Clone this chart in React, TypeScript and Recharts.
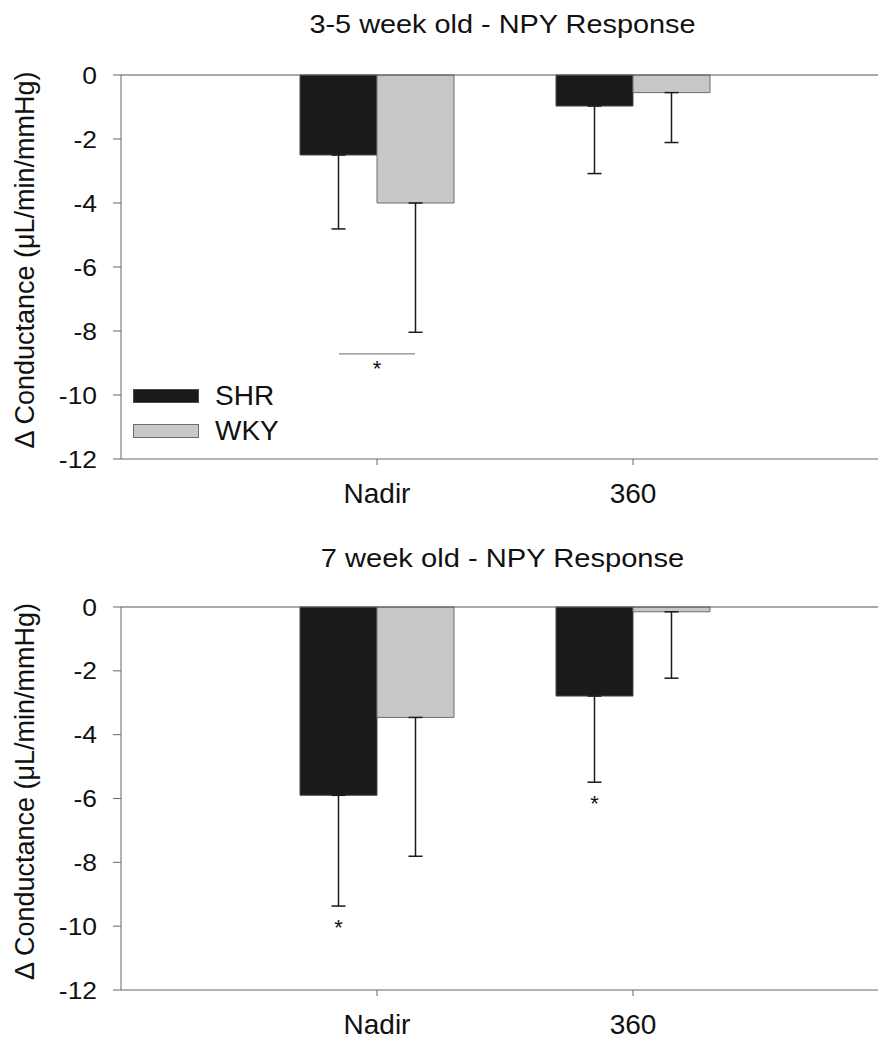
import React from 'react';
import { ComposedChart, Bar, ErrorBar, Scatter, XAxis, YAxis, ReferenceLine, Legend } from 'recharts';

// categorias e eixos
const categories = ['Nadir', '360'];
const yTicks = [0, -2, -4, -6, -8, -10, -12];

// 3-5 week old
const youngShr = [-2.5, -0.97];
const youngShrErr = [2.31, 2.11];
const youngWky = [-4.0, -0.55];
const youngWkyErr = [4.04, 1.56];
const youngSig: (number | null)[] = [-9.06, null];
const youngSigType: (string | null)[] = ['pair', null];

// 7 week old
const oldShr = [-5.9, -2.79];
const oldShrErr = [3.47, 2.7];
const oldWky = [-3.46, -0.15];
const oldWkyErr = [4.35, 2.08];
const oldSig: (number | null)[] = [-9.93, -6.06];
const oldSigType: (string | null)[] = ['shr', 'shr'];

const FONT = '"Liberation Sans", Arial, sans-serif';
const BAR_SIZE = 77;
const AXIS = '#666';

const SERIES = [
  { key: 'shr', name: 'SHR', fill: '#1a1a1a', stroke: '#4a4a4a' },
  { key: 'wky', name: 'WKY', fill: '#c8c8c8', stroke: '#6e6e6e' },
];

const buildRows = (
  shr: number[], shrErr: number[], wky: number[], wkyErr: number[],
  sig: (number | null)[], sigType: (string | null)[]
) =>
  categories.map((name, i) => ({
    name,
    shr: shr[i],
    shrErr: [shrErr[i], 0],
    wky: wky[i],
    wkyErr: [wkyErr[i], 0],
    sig: sig[i],
    sigType: sigType[i],
  }));

const youngRows = buildRows(youngShr, youngShrErr, youngWky, youngWkyErr, youngSig, youngSigType);
const oldRows = buildRows(oldShr, oldShrErr, oldWky, oldWkyErr, oldSig, oldSigType);

// asterisco de significancia
const SigMark = (props: any) => {
  const { cx, cy, payload } = props;
  if (!payload || payload.sig == null || payload.sigType == null) return <g />;
  const sx = payload.sigType === 'shr' ? cx - BAR_SIZE / 2 : cx;
  return (
    <g>
      {payload.sigType === 'pair' && (
        <line x1={cx - 38} x2={cx + 38} y1={cy - 11} y2={cy - 11} stroke="#888" strokeWidth={1.2} />
      )}
      <text x={sx} y={cy + 11} textAnchor="middle" fontSize={22} fontFamily={FONT} fill="#111">*</text>
    </g>
  );
};

const YTick = (props: any) => {
  const { x, y, payload } = props;
  return (
    <text
      transform={`translate(${x},${y}) scale(1.1,1)`}
      textAnchor="end"
      dy="0.355em"
      fontSize={24}
      fontFamily={FONT}
      fill="#111"
    >
      {payload.value}
    </text>
  );
};

const YLabel = (props: any) => {
  const vb = props.viewBox || {};
  const cy = vb.y + vb.height / 2 - 7;
  const x = 34;
  return (
    <text
      x={x}
      y={cy}
      transform={`rotate(-90, ${x}, ${cy})`}
      textAnchor="middle"
      fontSize={27}
      fontFamily={FONT}
      fill="#111"
    >
      Δ Conductance (μL/min/mmHg)
    </text>
  );
};

const LegendBox = () => (
  <div style={{ fontFamily: FONT, fontSize: 28, color: '#111' }}>
    {SERIES.map((s) => (
      <div key={s.key} style={{ display: 'flex', alignItems: 'center', height: 35, lineHeight: '35px' }}>
        <span
          style={{
            display: 'inline-block',
            width: 64,
            height: 12,
            background: s.fill,
            border: `1px solid ${s.stroke}`,
            marginRight: 16,
          }}
        />
        <span>{s.name}</span>
      </div>
    ))}
  </div>
);

function Panel({
  rows, title, height, marginTop, marginBottom, xHeight, tickMargin, titleTop, showLegend, scaleTitle,
}: {
  rows: any[]; title: string; height: number; marginTop: number; marginBottom: number;
  xHeight: number; tickMargin: number; titleTop: number; showLegend?: boolean; scaleTitle: number;
}) {
  return (
    <div style={{ position: 'relative', width: 878, height }}>
      <div
        style={{
          position: 'absolute',
          left: 124,
          top: titleTop,
          width: 757,
          textAlign: 'center',
          fontFamily: FONT,
          fontSize: 26,
          lineHeight: '30px',
          color: '#111',
          transform: `scaleX(${scaleTitle})`,
          zIndex: 2,
        }}
      >
        {title}
      </div>
      <ComposedChart
        width={878}
        height={height}
        data={rows}
        margin={{ top: marginTop, right: 0, left: 0, bottom: marginBottom }}
        barGap={0}
        barSize={BAR_SIZE}
      >
        <XAxis
          dataKey="name"
          padding={{ left: 128, right: 117 }}
          height={xHeight}
          tickSize={6}
          tickMargin={tickMargin}
          stroke={AXIS}
          tick={{ fontSize: 28, fontFamily: FONT, fill: '#111' }}
        />
        <YAxis
          type="number"
          domain={[-12, 0]}
          ticks={yTicks}
          interval={0}
          width={121}
          tickSize={8}
          tickMargin={16}
          stroke={AXIS}
          tick={<YTick />}
          label={{ content: (p: any) => <YLabel {...p} /> }}
        />
        <ReferenceLine y={0} stroke="#555" strokeWidth={1.2} />
        {SERIES.map((s) => (
          <Bar
            key={s.key}
            dataKey={s.key}
            name={s.name}
            fill={s.fill}
            stroke={s.stroke}
            strokeWidth={1}
            isAnimationActive={false}
          >
            <ErrorBar dataKey={`${s.key}Err`} direction="y" width={7} stroke="#1a1a1a" strokeWidth={1.5} />
          </Bar>
        ))}
        <Scatter dataKey="sig" shape={<SigMark />} isAnimationActive={false} legendType="none" />
        {showLegend && (
          <Legend
            layout="vertical"
            align="center"
            verticalAlign="middle"
            wrapperStyle={{ left: 133, top: 378, width: 200, height: 70 }}
            content={<LegendBox />}
          />
        )}
      </ComposedChart>
    </div>
  );
}

export default function App() {
  return (
    <div style={{ position: 'absolute', left: 0, top: 0, width: 878, height: 1040, background: '#fff' }}>
      <Panel
        rows={youngRows}
        title="3-5 week old - NPY Response"
        height={530}
        marginTop={75}
        marginBottom={11}
        xHeight={60}
        tickMargin={18}
        titleTop={9}
        showLegend
        scaleTitle={1.11}
      />
      <Panel
        rows={oldRows}
        title="7 week old - NPY Response"
        height={510}
        marginTop={77}
        marginBottom={0}
        xHeight={50}
        tickMargin={18}
        titleTop={13}
        scaleTitle={1.12}
      />
    </div>
  );
}
